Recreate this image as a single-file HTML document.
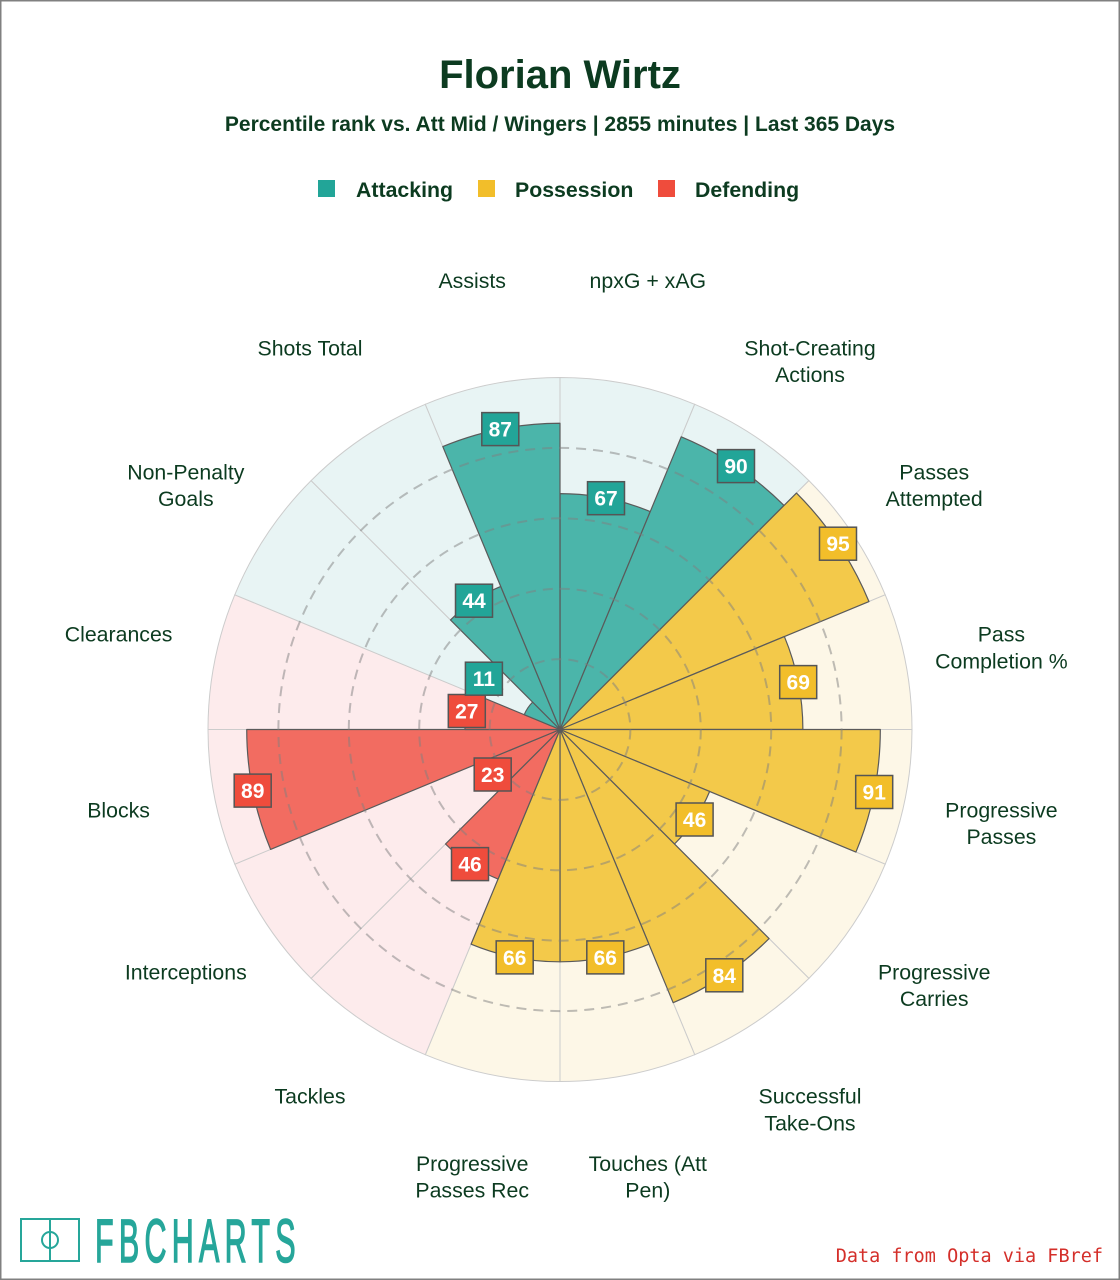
<!DOCTYPE html>
<html><head><meta charset="utf-8"><style>
html,body{margin:0;padding:0;background:#fff;}
svg{display:block;}
.t{font-family:"Liberation Sans",Arial,sans-serif;fill:#0c3b20;}
.p{font-size:21.3px;text-anchor:middle;}
.v{font-family:"Liberation Sans",Arial,sans-serif;font-weight:bold;font-size:21px;fill:#fff;text-anchor:middle;}
</style></head><body>
<svg width="1120" height="1280" viewBox="0 0 1120 1280" xmlns="http://www.w3.org/2000/svg">
<rect x="0" y="0" width="1120" height="1280" fill="#fff"/>
<text class="t" x="560" y="88" font-size="40" font-weight="bold" text-anchor="middle">Florian Wirtz</text>
<text class="t" x="560" y="131" font-size="21" font-weight="bold" text-anchor="middle">Percentile rank vs. Att Mid / Wingers | 2855 minutes | Last 365 Days</text>
<rect x="318" y="180" width="17" height="17" fill="#22a598"/>
<text class="t" x="356" y="197" font-size="21.3" font-weight="bold">Attacking</text>
<rect x="478" y="180" width="17" height="17" fill="#f2be2a"/>
<text class="t" x="515" y="197" font-size="21.3" font-weight="bold">Possession</text>
<rect x="658" y="180" width="17" height="17" fill="#ef4c3c"/>
<text class="t" x="695" y="197" font-size="21.3" font-weight="bold">Defending</text>

<g transform="translate(560,729.5)">
<g stroke="#cccccc" stroke-width="1">
<path transform="rotate(0)" d="M0 0L0 -352A352 352 0 0 1 134.70 -325.20Z" fill="#e8f4f4"/>
<path transform="rotate(22.5)" d="M0 0L0 -352A352 352 0 0 1 134.70 -325.20Z" fill="#e8f4f4"/>
<path transform="rotate(45)" d="M0 0L0 -352A352 352 0 0 1 134.70 -325.20Z" fill="#fdf7e7"/>
<path transform="rotate(67.5)" d="M0 0L0 -352A352 352 0 0 1 134.70 -325.20Z" fill="#fdf7e7"/>
<path transform="rotate(90)" d="M0 0L0 -352A352 352 0 0 1 134.70 -325.20Z" fill="#fdf7e7"/>
<path transform="rotate(112.5)" d="M0 0L0 -352A352 352 0 0 1 134.70 -325.20Z" fill="#fdf7e7"/>
<path transform="rotate(135)" d="M0 0L0 -352A352 352 0 0 1 134.70 -325.20Z" fill="#fdf7e7"/>
<path transform="rotate(157.5)" d="M0 0L0 -352A352 352 0 0 1 134.70 -325.20Z" fill="#fdf7e7"/>
<path transform="rotate(180)" d="M0 0L0 -352A352 352 0 0 1 134.70 -325.20Z" fill="#fdf7e7"/>
<path transform="rotate(202.5)" d="M0 0L0 -352A352 352 0 0 1 134.70 -325.20Z" fill="#fdebec"/>
<path transform="rotate(225)" d="M0 0L0 -352A352 352 0 0 1 134.70 -325.20Z" fill="#fdebec"/>
<path transform="rotate(247.5)" d="M0 0L0 -352A352 352 0 0 1 134.70 -325.20Z" fill="#fdebec"/>
<path transform="rotate(270)" d="M0 0L0 -352A352 352 0 0 1 134.70 -325.20Z" fill="#fdebec"/>
<path transform="rotate(292.5)" d="M0 0L0 -352A352 352 0 0 1 134.70 -325.20Z" fill="#e8f4f4"/>
<path transform="rotate(315)" d="M0 0L0 -352A352 352 0 0 1 134.70 -325.20Z" fill="#e8f4f4"/>
<path transform="rotate(337.5)" d="M0 0L0 -352A352 352 0 0 1 134.70 -325.20Z" fill="#e8f4f4"/>
</g>
<g stroke="#5a5a5a" stroke-width="1.2" stroke-linejoin="round">
<path transform="rotate(0)" d="M0 0L0 -235.84A235.84 235.84 0 0 1 90.25 -217.89Z" fill="#4bb5aa"/>
<path transform="rotate(22.5)" d="M0 0L0 -316.8A316.8 316.8 0 0 1 121.23 -292.69Z" fill="#4bb5aa"/>
<path transform="rotate(45)" d="M0 0L0 -334.4A334.4 334.4 0 0 1 127.97 -308.95Z" fill="#f3c94a"/>
<path transform="rotate(67.5)" d="M0 0L0 -242.88A242.88 242.88 0 0 1 92.95 -224.39Z" fill="#f3c94a"/>
<path transform="rotate(90)" d="M0 0L0 -320.32A320.32 320.32 0 0 1 122.58 -295.94Z" fill="#f3c94a"/>
<path transform="rotate(112.5)" d="M0 0L0 -161.92A161.92 161.92 0 0 1 61.96 -149.59Z" fill="#f3c94a"/>
<path transform="rotate(135)" d="M0 0L0 -295.68A295.68 295.68 0 0 1 113.15 -273.17Z" fill="#f3c94a"/>
<path transform="rotate(157.5)" d="M0 0L0 -232.32A232.32 232.32 0 0 1 88.91 -214.64Z" fill="#f3c94a"/>
<path transform="rotate(180)" d="M0 0L0 -232.32A232.32 232.32 0 0 1 88.91 -214.64Z" fill="#f3c94a"/>
<path transform="rotate(202.5)" d="M0 0L0 -161.92A161.92 161.92 0 0 1 61.96 -149.59Z" fill="#f26c61"/>
<path transform="rotate(225)" d="M0 0L0 -80.96A80.96 80.96 0 0 1 30.98 -74.80Z" fill="#f26c61"/>
<path transform="rotate(247.5)" d="M0 0L0 -313.28A313.28 313.28 0 0 1 119.89 -289.43Z" fill="#f26c61"/>
<path transform="rotate(270)" d="M0 0L0 -95.04A95.04 95.04 0 0 1 36.37 -87.81Z" fill="#f26c61"/>
<path transform="rotate(292.5)" d="M0 0L0 -38.72A38.72 38.72 0 0 1 14.82 -35.77Z" fill="#4bb5aa"/>
<path transform="rotate(315)" d="M0 0L0 -154.88A154.88 154.88 0 0 1 59.27 -143.09Z" fill="#4bb5aa"/>
<path transform="rotate(337.5)" d="M0 0L0 -306.24A306.24 306.24 0 0 1 117.19 -282.93Z" fill="#4bb5aa"/>
</g>
<g fill="none" stroke="#808080" stroke-opacity="0.5" stroke-width="2" stroke-dasharray="10 7">
<circle r="70.4"/><circle r="140.8"/><circle r="211.2"/><circle r="281.6"/>
</g>
</g>

<g stroke="#555" stroke-width="1.5">
<rect x="587.5" y="481.7" width="37" height="33" fill="#22a598"/>
<rect x="717.5" y="449.6" width="37" height="33" fill="#22a598"/>
<rect x="819.5" y="527.2" width="37" height="33" fill="#f2be2a"/>
<rect x="779.7" y="665.6" width="37" height="33" fill="#f2be2a"/>
<rect x="855.7" y="775.5" width="37" height="33" fill="#f2be2a"/>
<rect x="676.1" y="803.0" width="37" height="33" fill="#f2be2a"/>
<rect x="705.8" y="958.8" width="37" height="33" fill="#f2be2a"/>
<rect x="586.8" y="940.9" width="37" height="33" fill="#f2be2a"/>
<rect x="496.2" y="940.9" width="37" height="33" fill="#f2be2a"/>
<rect x="451.5" y="847.6" width="37" height="33" fill="#ef4c3c"/>
<rect x="474.2" y="758.0" width="37" height="33" fill="#ef4c3c"/>
<rect x="234.2" y="774.1" width="37" height="33" fill="#ef4c3c"/>
<rect x="448.3" y="694.5" width="37" height="33" fill="#ef4c3c"/>
<rect x="465.4" y="662.2" width="37" height="33" fill="#22a598"/>
<rect x="455.5" y="584.2" width="37" height="33" fill="#22a598"/>
<rect x="481.8" y="412.6" width="37" height="33" fill="#22a598"/>
</g>
<g class="v">
<text class="v" x="606.0" y="505.7">67</text>
<text class="v" x="736.0" y="473.6">90</text>
<text class="v" x="838.0" y="551.2">95</text>
<text class="v" x="798.2" y="689.6">69</text>
<text class="v" x="874.2" y="799.5">91</text>
<text class="v" x="694.6" y="827.0">46</text>
<text class="v" x="724.3" y="982.8">84</text>
<text class="v" x="605.3" y="964.9">66</text>
<text class="v" x="514.7" y="964.9">66</text>
<text class="v" x="470.0" y="871.6">46</text>
<text class="v" x="492.7" y="782.0">23</text>
<text class="v" x="252.7" y="798.1">89</text>
<text class="v" x="466.8" y="718.5">27</text>
<text class="v" x="483.9" y="686.2">11</text>
<text class="v" x="474.0" y="608.2">44</text>
<text class="v" x="500.3" y="436.6">87</text>
</g>

<g class="t p">
<text class="t p" x="647.8" y="288.1">npxG + xAG</text>
<text class="t p" x="810" y="355.3">Shot-Creating</text>
<text class="t p" x="810" y="382">Actions</text>
<text class="t p" x="934.2" y="479.5">Passes</text>
<text class="t p" x="934.2" y="506.2">Attempted</text>
<text class="t p" x="1001.4" y="641.7">Pass</text>
<text class="t p" x="1001.4" y="668.4">Completion %</text>
<text class="t p" x="1001.4" y="817.3">Progressive</text>
<text class="t p" x="1001.4" y="844">Passes</text>
<text class="t p" x="934.2" y="979.5">Progressive</text>
<text class="t p" x="934.2" y="1006.2">Carries</text>
<text class="t p" x="810" y="1103.7">Successful</text>
<text class="t p" x="810" y="1130.4">Take-Ons</text>
<text class="t p" x="647.8" y="1170.9">Touches (Att</text>
<text class="t p" x="647.8" y="1197.6">Pen)</text>
<text class="t p" x="472.2" y="1170.9">Progressive</text>
<text class="t p" x="472.2" y="1197.6">Passes Rec</text>
<text class="t p" x="310" y="1103.7">Tackles</text>
<text class="t p" x="185.8" y="979.5">Interceptions</text>
<text class="t p" x="118.6" y="817.3">Blocks</text>
<text class="t p" x="118.6" y="641.7">Clearances</text>
<text class="t p" x="185.8" y="479.5">Non-Penalty</text>
<text class="t p" x="185.8" y="506.2">Goals</text>
<text class="t p" x="310" y="355.3">Shots Total</text>
<text class="t p" x="472.2" y="288.1">Assists</text>
</g>

<g fill="none" stroke="#26a69a" stroke-width="2">
<rect x="21" y="1219" width="58" height="42"/>
<line x1="50" y1="1219" x2="50" y2="1261"/>
<circle cx="50" cy="1240" r="8"/>
</g>
<g transform="translate(95,1262) scale(0.5,1)">
<text x="0" y="0" font-family="Liberation Sans, Arial, sans-serif" font-size="61" fill="#26a69a" stroke="#26a69a" stroke-width="1.6" letter-spacing="10.5">FBCHARTS</text>
</g>

<text x="1103" y="1262" font-family="DejaVu Sans Mono, Liberation Mono, monospace" font-size="18.5" fill="#d42f2a" text-anchor="end">Data from Opta via FBref</text>

<rect x="0.75" y="0.75" width="1118.5" height="1278.5" fill="none" stroke="#808080" stroke-width="1.5"/>
</svg>
</body></html>
